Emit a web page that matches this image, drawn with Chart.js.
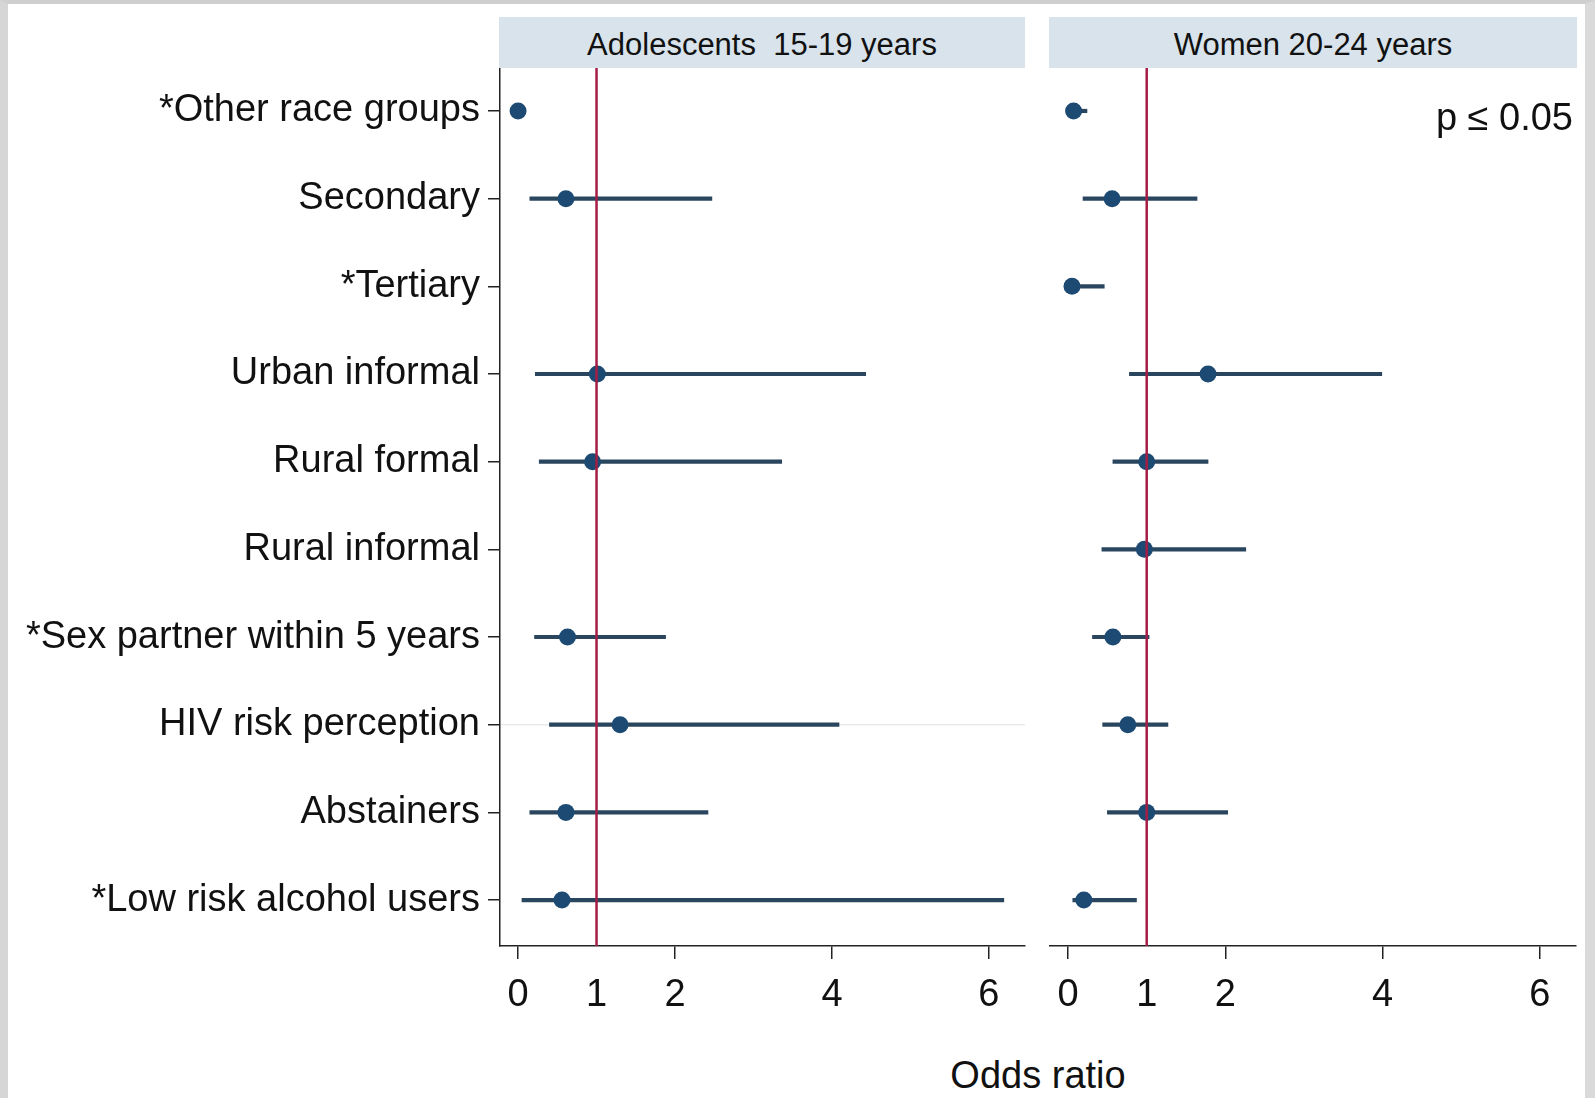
<!DOCTYPE html>
<html lang="en">
<head>
<meta charset="utf-8">
<title>Odds ratio - Adolescents and Women</title>
<script src="https://cdn.jsdelivr.net/npm/chart.js@4.4.1/dist/chart.umd.min.js"></script>
<style>
    html, body { margin: 0; padding: 0; background: #fff; }
    body { width: 1595px; height: 1098px; position: relative; overflow: hidden; font-family: 'Liberation Sans', Arial, sans-serif; color: #111; }
    .frame { position: absolute; left: 0; top: 0; width: 1595px; height: 1098px; box-sizing: border-box;
             border-left: 8px solid #d6d6d6; border-top: 4px solid #cfcfcf; border-right: 10px solid #dadada; }
    .strip { position: absolute; top: 17px; height: 51px; line-height: 51px; padding-top: 2px; box-sizing: border-box;
             background: #d8e3eb; text-align: center; font-size: 31px; white-space: pre; }
    canvas { position: absolute; top: 68px; }
    .note { position: absolute; font-size: 38px; line-height: 38px; white-space: pre; }
</style>
</head>
<body>
<div class="frame"></div>
<div class="strip" style="left:499px; width:526px;">Adolescents  15-19 years</div>
<div class="strip" style="left:1049px; width:528px;">Women 20-24 years</div>
<canvas id="chartAdol" width="1040" height="962" style="left:0;"></canvas>
<canvas id="chartWomen" width="555" height="962" style="left:1040px;"></canvas>
<div class="note" style="right:22px; top:98px;">p ≤ 0.05</div>
<div class="note" style="left:0; width:2076px; text-align:center; top:1056px;">Odds ratio</div>

<script>
// ==========================================
// DATOS
// ==========================================
const categories = ['*Other race groups', 'Secondary', '*Tertiary', 'Urban informal', 'Rural formal',
    'Rural informal', '*Sex partner within 5 years', 'HIV risk perception', 'Abstainers', '*Low risk alcohol users'];

// Adolescents 15-19 years (null = not estimated)
const adolOR = [0.0, 0.61, null, 1.01, 0.95, null, 0.63, 1.30, 0.61, 0.56];
const adolLo = [0.0, 0.15, null, 0.22, 0.27, null, 0.21, 0.40, 0.15, 0.05];
const adolHi = [0.02, 2.47, null, 4.43, 3.36, null, 1.88, 4.09, 2.42, 6.19];

// Women 20-24 years
const womenOR = [0.07, 0.56, 0.05, 1.78, 1.00, 0.97, 0.57, 0.76, 1.00, 0.20];
const womenLo = [0.0, 0.19, 0.0, 0.78, 0.57, 0.43, 0.31, 0.44, 0.50, 0.06];
const womenHi = [0.24, 1.64, 0.46, 3.99, 1.78, 2.26, 1.03, 1.27, 2.03, 0.87];

const xTicks = [0, 1, 2, 4, 6];
const refOR = 1;

// ==========================================
// ESTILOS
// ==========================================
const FONT = "'Liberation Sans', Arial, sans-serif";
const DOT = '#1d4a73';
const CI = '#2a465e';
const REF = '#a51d45';
const AXIS = '#222';
const FAINT_ROW = 8; // light horizontal rule seen behind "HIV risk perception"

const refLine = {
    id: 'refLine',
    afterDatasetsDraw(chart) {
        const { ctx, chartArea, scales } = chart;
        const px = scales.x.getPixelForValue(refOR);
        ctx.save();
        ctx.strokeStyle = REF;
        ctx.lineWidth = 2.5;
        ctx.beginPath();
        ctx.moveTo(px, chartArea.top);
        ctx.lineTo(px, chartArea.bottom);
        ctx.stroke();
        ctx.restore();
    }
};

const makePanel = (canvasId, or, lo, hi, withLabels) => {
    const ciData = [];
    const orData = [];
    categories.forEach((c, i) => {
        if (or[i] === null) return;
        ciData.push({ x: [lo[i], hi[i]], y: i + 1 });
        orData.push({ x: or[i], y: i + 1 });
    });

    const plotH = 946 - 68;
    const canvas = document.getElementById(canvasId);

    return new Chart(canvas.getContext('2d'), {
        type: 'bar',
        data: {
            datasets: [
                { type: 'bar', data: ciData, backgroundColor: CI, borderWidth: 0, barThickness: 3.5, order: 1 },
                { type: 'scatter', data: orData, pointRadius: 8.5, pointBackgroundColor: DOT,
                  pointBorderColor: DOT, pointBorderWidth: 0, order: 0, clip: false }
            ]
        },
        options: {
            responsive: false,
            animation: false,
            indexAxis: 'y',
            layout: { autoPadding: false, padding: { left: 0, right: withLabels ? 15 : 19, top: 0, bottom: 0 } },
            plugins: { legend: { display: false }, tooltip: { enabled: false } },
            scales: {
                y: {
                    type: 'linear',
                    reverse: true,
                    offset: false,
                    min: 0.51,
                    max: 10.524,
                    afterBuildTicks: s => { s.ticks = categories.map((c, i) => ({ value: i + 1 })); },
                    afterFit: s => { s.width = withLabels ? 500 : 10; s.paddingTop = 0; s.paddingBottom = 0; },
                    ticks: {
                        display: withLabels,
                        autoSkip: false,
                        padding: 8,
                        color: '#111',
                        font: { family: FONT, size: 38 },
                        callback: v => categories[v - 1]
                    },
                    grid: {
                        display: withLabels,
                        offset: false,
                        drawOnChartArea: true,
                        color: ctx => (ctx.tick && ctx.tick.value === FAINT_ROW) ? '#e8ebed' : 'rgba(0,0,0,0)',
                        tickColor: AXIS,
                        tickLength: 12,
                        lineWidth: 1.5
                    },
                    border: { display: withLabels, color: AXIS, width: 1.5 }
                },
                x: {
                    type: 'linear',
                    min: -0.23,
                    max: 6.46,
                    afterBuildTicks: s => { s.ticks = xTicks.map(v => ({ value: v })); },
                    afterFit: s => { s.height = canvas.height - plotH; },
                    ticks: {
                        autoSkip: false,
                        maxRotation: 0,
                        padding: 14,
                        color: '#111',
                        font: { family: FONT, size: 38 }
                    },
                    grid: {
                        drawOnChartArea: false,
                        tickLength: 13,
                        lineWidth: 1.5,
                        tickColor: ctx => (ctx.tick && ctx.tick.value === refOR) ? 'rgba(0,0,0,0)' : AXIS
                    },
                    border: { color: AXIS, width: 1.5 }
                }
            }
        },
        plugins: [refLine]
    });
};

document.addEventListener('DOMContentLoaded', () => {
    makePanel('chartAdol', adolOR, adolLo, adolHi, true);
    makePanel('chartWomen', womenOR, womenLo, womenHi, false);
});
</script>
</body>
</html>
